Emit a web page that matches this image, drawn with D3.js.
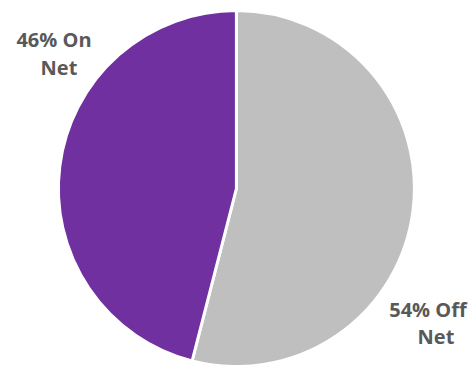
<!DOCTYPE html>
<html>
<head>
<meta charset="utf-8">
<script src="https://cdn.jsdelivr.net/npm/d3@7"></script>
<style>
  html, body { margin: 0; padding: 0; background: #fff; }
  svg { display: block; }
  .label { font-family: "Open Sans", Lato, sans-serif; font-weight: bold; font-size: 20px; fill: #595959; }
</style>
</head>
<body>
<div id="chart"></div>
<script>
// slice data, clockwise from 12 o'clock
const categories = ["Off Net", "On Net"];
const values = [54, 46];
const colors = ["#BFBFBF", "#7030A0"];
const labelLines = [["54% Off", "Net"], ["46% On", "Net"]];

const width = 472;
const height = 365;
const cx = 236.4, cy = 188.5, radius = 178;

const svg = d3.select("#chart")
    .append("svg")
    .attr("width", width)
    .attr("height", height);

const pie = d3.pie().sort(null).value(d => d);
const arc = d3.arc().innerRadius(0).outerRadius(radius);

const g = svg.append("g")
    .attr("transform", `translate(${cx},${cy})`);

g.selectAll("path")
    .data(pie(values))
    .enter().append("path")
    .attr("d", arc)
    .attr("fill", (d, i) => colors[i])
    .attr("stroke", "#fff")
    .attr("stroke-width", 3)
    .attr("stroke-linejoin", "round");

// label placement (line centres / baselines)
const labelPos = [
    [{ x: 428, y: 317 }, { x: 436, y: 344 }],
    [{ x: 54, y: 47 }, { x: 59, y: 75 }]
];

categories.forEach((c, i) => {
    labelLines[i].forEach((line, j) => {
        svg.append("text")
            .attr("class", "label")
            .attr("x", labelPos[i][j].x)
            .attr("y", labelPos[i][j].y)
            .attr("text-anchor", "middle")
            .attr("textLength", null)
            .text(line);
    });
});
</script>
</body>
</html>
